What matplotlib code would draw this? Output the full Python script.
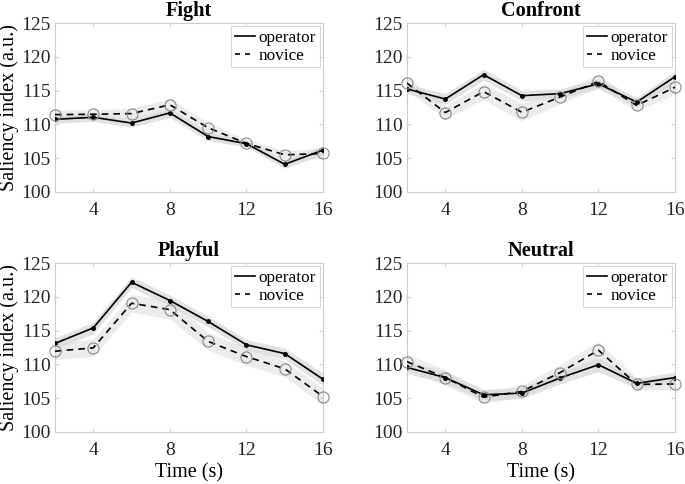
import matplotlib
matplotlib.use("Agg")
import matplotlib.pyplot as plt
from matplotlib.lines import Line2D
import numpy as np

plt.rcParams['font.family'] = ['Liberation Serif', 'DejaVu Serif']

time = [2, 4, 6, 8, 10, 12, 14, 16]
titles = ["Fight", "Confront", "Playful", "Neutral"]

fight_operator = [110.75, 111.05, 110.2, 111.7, 108.2, 107.15, 104.1, 106.2]
fight_novice = [111.45, 111.5, 111.6, 112.9, 109.5, 107.2, 105.5, 105.7]
confront_operator = [115.25, 113.75, 117.35, 114.25, 114.55, 116.0, 113.3, 117.05]
confront_novice = [116.1, 111.75, 114.85, 111.8, 114.05, 116.35, 112.8, 115.5]
playful_operator = [113.1, 115.4, 122.15, 119.45, 116.35, 112.9, 111.6, 107.8]
playful_novice = [111.95, 112.45, 119.05, 118.1, 113.4, 111.15, 109.35, 105.25]
neutral_operator = [109.55, 108.05, 105.5, 105.75, 108.0, 109.95, 107.2, 108.05]
neutral_novice = [110.4, 108.05, 105.15, 106.0, 108.8, 112.1, 107.05, 107.1]

fight_operator_err = [0.6, 0.6, 0.6, 0.7, 0.6, 0.5, 0.6, 0.7]
fight_novice_err = [0.7, 0.7, 0.8, 0.9, 0.7, 0.6, 0.6, 0.8]
confront_operator_err = [0.7, 0.8, 0.8, 0.8, 0.7, 0.7, 0.7, 0.8]
confront_novice_err = [0.9, 1.0, 1.2, 1.3, 1.0, 0.9, 0.9, 1.0]
playful_operator_err = [0.8, 0.9, 0.8, 0.8, 0.8, 0.8, 0.8, 0.9]
playful_novice_err = [1.2, 1.3, 1.3, 1.4, 1.3, 1.3, 1.2, 1.2]
neutral_operator_err = [0.9, 0.9, 0.8, 0.8, 0.9, 1.0, 0.8, 0.8]
neutral_novice_err = [1.2, 1.1, 0.9, 0.9, 1.2, 1.3, 0.9, 0.8]

operators = [fight_operator, confront_operator, playful_operator, neutral_operator]
novices = [fight_novice, confront_novice, playful_novice, neutral_novice]
op_errs = [fight_operator_err, confront_operator_err, playful_operator_err, neutral_operator_err]
nov_errs = [fight_novice_err, confront_novice_err, playful_novice_err, neutral_novice_err]

fig = plt.figure(figsize=(6.85, 4.84), dpi=100)
W, H = 685, 484
boxes = [(55, 23), (407, 23), (55, 263), (407, 263)]
aw, ah = 268, 169

edge = '#cccccc'
for i, (x0, y0) in enumerate(boxes):
    ax = fig.add_axes([x0 / W, 1 - (y0 + ah) / H, aw / W, ah / H])
    t = np.array(time)
    op = np.array(operators[i]); nv = np.array(novices[i])
    oe = np.array(op_errs[i]); ne = np.array(nov_errs[i])
    ax.fill_between(t, nv - ne, nv + ne, color='#ececec', lw=0, zorder=1)
    ax.fill_between(t, op - oe, op + oe, color='#d9d9d9', alpha=0.75, lw=0, zorder=2)
    ax.plot(t, op, '-', color='black', lw=1.2, marker='o', ms=2.5, zorder=4)
    ax.plot(t, nv, '--', color='black', lw=1.2, dashes=(4, 3), zorder=3)
    ax.plot(t, nv, 'o', ms=8, mfc='none', mec='#888888', mew=0.8, zorder=5, clip_on=False)
    ax.set_xlim(2, 16)
    ax.set_ylim(100, 125)
    ax.set_xticks([4, 8, 12, 16])
    ax.set_yticks([100, 105, 110, 115, 120, 125])
    for s in ax.spines.values():
        s.set_color(edge)
        s.set_linewidth(0.8)
    ax.tick_params(direction='in', length=3, width=0.6, color=edge,
                   labelsize=14, labelcolor='#262626', top=True, right=True)
    ax.tick_params(axis='x', pad=7)
    ax.tick_params(axis='y', pad=3)
    ax.set_title(titles[i], fontsize=14.6, fontweight='bold', pad=5)
    if i % 2 == 0:
        ax.set_ylabel('Saliency index (a.u.)', fontsize=14.5, labelpad=2)
    if i >= 2:
        ax.set_xlabel('Time (s)', fontsize=14.5, labelpad=3)
    handles = [Line2D([], [], color='black', lw=1.2, ls='-'),
               Line2D([], [], color='black', lw=1.2, ls=(0, (3, 3)))]
    leg = ax.legend(handles, ['operator', 'novice'], loc='upper right',
                    fontsize=12.4, frameon=True, fancybox=False, handlelength=1.2,
                    handletextpad=0.2, borderpad=0.2, labelspacing=0.1,
                    borderaxespad=0.2)
    leg.get_frame().set_edgecolor(edge)
    leg.get_frame().set_linewidth(0.8)

fig.savefig('out.png', dpi=100)
